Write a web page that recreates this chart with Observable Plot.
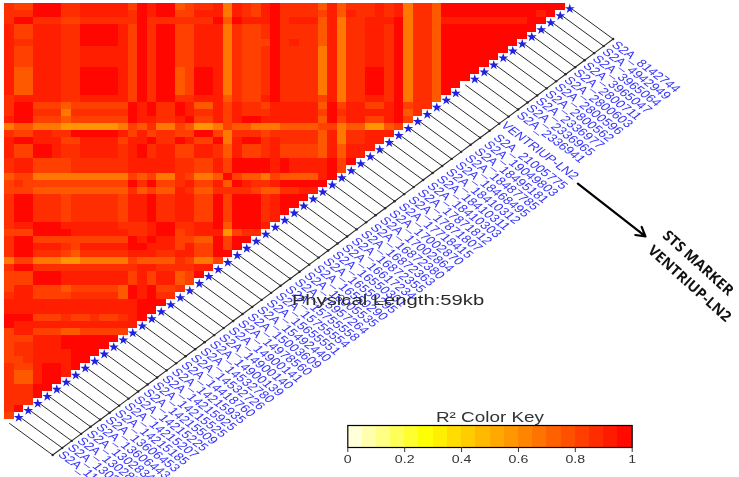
<!DOCTYPE html>
<html>
<head>
<meta charset="utf-8">
<script src="https://cdn.jsdelivr.net/npm/d3@7"></script>
<script src="https://cdn.jsdelivr.net/npm/@observablehq/plot@0.6"></script>
<style>
html,body{margin:0;padding:0;background:#fff;width:739px;height:477px;overflow:hidden}
#wrap{position:relative;width:739px;height:477px;overflow:hidden}
#wrap svg{position:absolute;left:0;filter:blur(0.5px);background:transparent}
</style>
</head>
<body>
<div id="wrap"></div>
<script>
// R² shades seen in the triangle (index = digit in r2Rows)
const r2Levels = [0.98, 0.915, 0.87, 0.82, 0.75, 0.66, 0.58];

// Heatmap: top row first, each row one cell shorter
const r2Rows = [
"2330002211 1113010043 2215123102 2224142221 2152240000 000000000",
"2220002211 1112010033 1115123102 2223141221 2152240000 00000010",
"2002223322 2222022222 2204011102 1114152211 1052241111 1111100",
"1331112200 0013020033 1115233202 2224152211 2052240000 000000",
"1331112200 0013020033 1115233202 2224152211 2052240000 00000",
"1221112200 0013020033 1115233302 1224152211 2052240000 0000",
"1331112211 1113020033 1115233202 2225152211 2052240000 000",
"1331112211 1113020033 1115233202 2225152211 2052240000 00",
"1331112211 1113020033 1115233202 2225152211 2052240000 0",
"1441112200 0013020043 0015233202 2225152200 2052240000",
"1441112200 0013020043 0015233202 2225152200 205224000",
"1441112200 0013020043 0015233202 2225152200 20522400",
"1441112200 0013020043 0015233202 2225152200 2052240",
"2111112211 1113020022 1114233102 2223152211 205224",
"2003334333 3330102201 4413122311 1114031133 10322",
"2002225222 2220102201 2213122211 1113021111 1042",
"1003334333 3330112210 3313100111 1114031133 103",
"5445556666 6653425534 6653445554 4443354466 43",
"2331122000 0013132233 0035222322 2224152211 1",
"1001113311 1131102201 3305100212 2224152211",
"1330012211 1121021133 1124133213 333414111",
"1330012211 1121021133 1124133213 33341411",
"2113333222 2221111122 3313000010 1111030",
"2113333222 2221111122 3313000010 111103",
"4335555555 5553435523 5540344534 44410",
"3233333333 3330203321 3314012210 0000",
"3334444444 4442434412 4422223442 211",
"2002223222 2231102211 3303000210 00",
"2002223222 2231102211 3303000210 0",
"2002223222 2231102211 3303000210",
"2002223222 2231102211 330300021",
"2110001111 1122210022 11040001",
"3330000111 1112210032 1116322",
"2003333333 3330101133 440300",
"2001112311 1110011131 33030",
"2002223422 2221112211 3300",
"5335556655 5553444423 553",
"2002222222 2222112222 11",
"3330001111 1113131143 0",
"3330001111 1113131143",
"3113334333 334010332",
"2113333222 22401022",
"1111111111 1111000",
"1111111111 111100",
"0003332332 33210",
"0111111111 1111",
"3113334433 333",
"3331110000 00",
"3221110000 0",
"3221111000",
"332111100",
"23310010",
"2441001",
"244100",
"22200",
"2220",
"222",
"20",
"3"
];

// Marker names, top right to bottom left
const markerNames = [
"S2A_8142744","S2A_4942949","S2A_3965064","S2A_3965047","S2A_2800711","S2A_2800603",
"S2A_2800596","S2A_2800562","S2A_2336977","S2A_2336965","S2A_2336941","VENTRIUP-LN2",
"S2A_21005775","S2A_19049803","S2A_18495181","S2A_18487785","S2A_18468495","S2A_18410312",
"S2A_18410311","S2A_18410303","S2A_17871812","S2A_17871807","S2A_17718415","S2A_17002870",
"S2A_17002864","S2A_16872380","S2A_16872363","S2A_16872355","S2A_16617234","S2A_16550301",
"S2A_16550295","S2A_16550290","S2A_16005535","S2A_15957264","S2A_15755558","S2A_15755554",
"S2A_15655551","S2A_15492440","S2A_15003609","S2A_14978560","S2A_14900141","S2A_14900140",
"S2A_14900139","S2A_14532780","S2A_14532726","S2A_14418760","S2A_14215935","S2A_14215925",
"S2A_14215525","S2A_14215509","S2A_14215225","S2A_14215207","S2A_14215185","S2A_13606453",
"S2A_13606443","S2A_13028348","S2A_13028346","S2A_13028332","S2A_11860000"
];
const unstarredMarker = "VENTRIUP-LN2";

// Colour key
const keyTicks = [0, 0.2, 0.4, 0.6, 0.8, 1];
const keyBinCount = 20;
const colorStops = [0, 0.28, 1];
const colorRange = ["#ffffee", "#ffff00", "#ff0000"];

// Texts
const lengthNote = "Physical Length:59kb";
const keyTitle = "R² Color Key";
const markerNoteLines = ["STS MARKER", "VENTRIUP-LN2"];

const color = {type: "linear", domain: colorStops, range: colorRange};

// Cells
const cells = r2Rows.flatMap((s, row) =>
  Array.from(s.replace(/ /g, "")).slice(0, 59 - row).map((d, col) => ({col, row, r2: r2Levels[+d]}))
);

// Marker geometry in matrix units: j = 58 at top right, j = -1 at bottom left
const leads = d3.range(-1, 59).map(j => ({
  j,
  x1: j + 1.5, y1: 58.5 - j,
  x2: j + 6.07, y2: 63 - j
}));
const stars = d3.range(0, 59)
  .filter(j => markerNames[58 - j] !== unstarredMarker)
  .map(j => ({x: j + 1.5, y: 58.7 - j}));
const labels = markerNames.map((name, k) => {
  if (k < 11) return {name, x: 64.16 - k, y: 5.56 + k};
  if (k === 11) return {name, x: 52.5, y: 17.0};
  return {name, x: 51.7 - (k - 12) * 0.9957, y: 18.75 + (k - 12) * 0.977};
});

const main = Plot.plot({
  width: 739, height: 477,
  marginTop: 0, marginRight: 0, marginBottom: 0, marginLeft: 0,
  style: {fontFamily: "'Liberation Sans', Arial, sans-serif", background: "transparent"},
  x: {domain: [0, 59], range: [4, 564.5], axis: null},
  y: {domain: [0, 59], range: [3.3, 419.25], axis: null},
  color,
  marks: [
    Plot.rect(cells, {
      x1: "col", x2: d => d.col + 1,
      y1: "row", y2: d => d.row + 1,
      fill: "r2", shapeRendering: "crispEdges"
    }),
    Plot.link(leads, {x1: "x1", y1: "y1", x2: "x2", y2: "y2", stroke: "#2a2a2a", strokeWidth: 1}),
    Plot.line(leads, {x: "x2", y: "y2", stroke: "#2a2a2a", strokeWidth: 1.1}),
    Plot.dot(leads, {x: "x2", y: "y2", r: 1.2, fill: "#2a2a2a"}),
    Plot.dot(stars, {x: "x", y: "y", symbol: "star", r: 3.1, fill: "#2020e0"}),
    Plot.text(labels, {
      x: "x", y: "y", text: "name", rotate: 45,
      textAnchor: "start", lineAnchor: "middle",
      fontSize: 10.6, fill: "#3434ff", className: "stretch"
    }),
    Plot.text([lengthNote], {
      x: [40.37], y: [42.1], text: d => d,
      fontSize: 15, fill: "#2a2a2a", className: "stretch"
    }),
    Plot.arrow([0], {
      x1: () => 60.35, y1: () => 25.5, x2: () => 67.47, y2: () => 33.0,
      stroke: "#000", strokeWidth: 2.2, headLength: 7, bend: 0
    }),
    Plot.text([markerNoteLines[0]], {
      x: [73.0], y: [36.77], text: d => d, rotate: 42,
      fontSize: 14.6, fontWeight: 700, fill: "#111",
      fontFamily: "'Open Sans', sans-serif"
    }),
    Plot.text([markerNoteLines[1]], {
      x: [72.1], y: [39.7], text: d => d, rotate: 42,
      fontSize: 14.6, fontWeight: 700, fill: "#111",
      fontFamily: "'Open Sans', sans-serif"
    })
  ]
});
main.style.top = "0px";

const keyBins = d3.range(keyBinCount).map(i => ({
  x1: i / keyBinCount, x2: (i + 1) / keyBinCount, mid: (i + 0.5) / keyBinCount
}));
const key = Plot.plot({
  width: 739, height: 77,
  marginTop: 25, marginBottom: 30, marginLeft: 347.3, marginRight: 107.3,
  style: {fontFamily: "'Liberation Sans', Arial, sans-serif", background: "transparent"},
  x: {domain: [0, 1], axis: null},
  y: {axis: null},
  color,
  marks: [
    Plot.rect(keyBins, {x1: "x1", x2: "x2", fill: "mid", shapeRendering: "crispEdges"}),
    Plot.frame({stroke: "#000", strokeWidth: 1.2}),
    Plot.axisX({
      ticks: keyTicks, tickSize: 5, tickPadding: 3, tickFormat: d => String(d),
      fontSize: 10.5, color: "#333", anchor: "bottom", label: null
    }),
    Plot.text([keyTitle], {
      x: [0.5], frameAnchor: "top", lineAnchor: "middle", dy: -8,
      text: d => d, fontSize: 14, fill: "#333"
    })
  ]
});
key.style.top = "400px";

const wrap = document.getElementById("wrap");
wrap.append(main, key);

// The reference is horizontally stretched: widen the text the same way
const widen = el => {
  const t = el.getAttribute("transform") || "";
  el.setAttribute("transform", /rotate\(/.test(t)
    ? t.replace(/rotate\(/, "scale(1.35,1) rotate(")
    : t + " scale(1.35,1)");
};
main.querySelectorAll(".stretch text").forEach(widen);
key.querySelectorAll("text").forEach(widen);
</script>
</body>
</html>
